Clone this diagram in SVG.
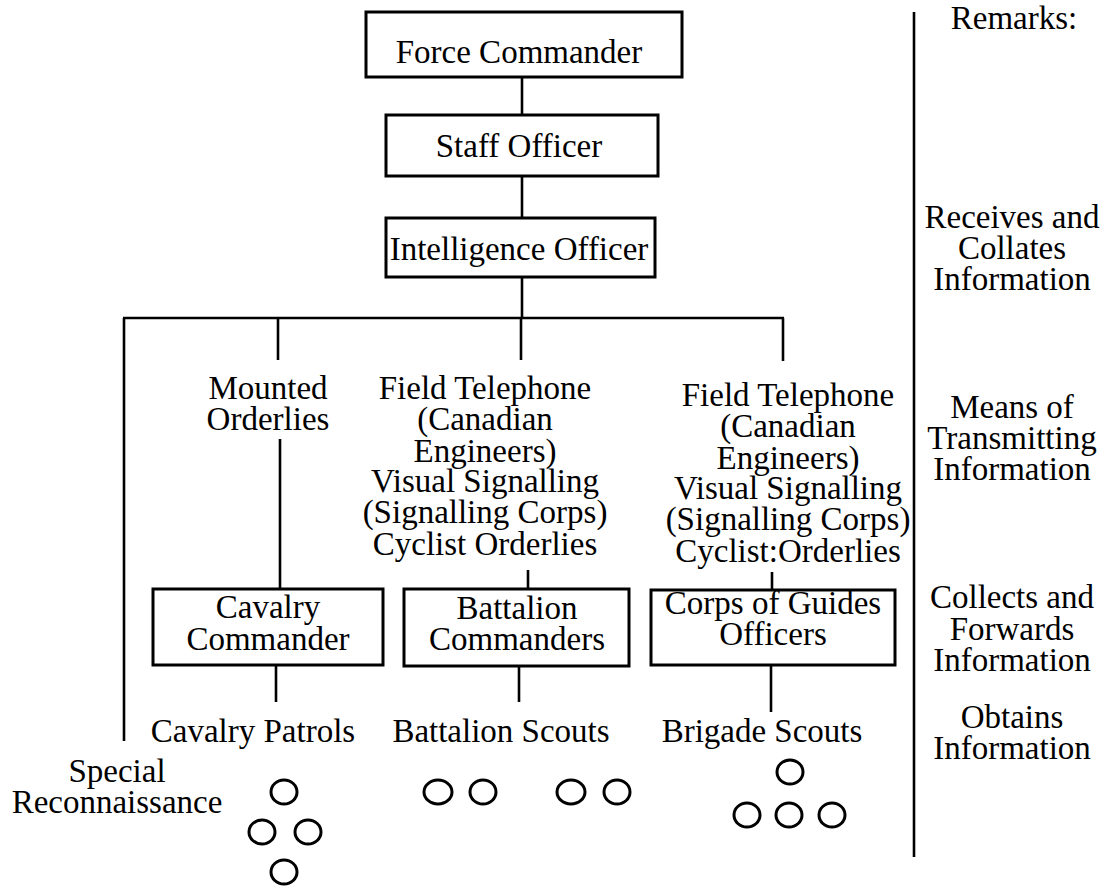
<svg xmlns="http://www.w3.org/2000/svg" width="1108" height="887" viewBox="0 0 1108 887">
<style>
text { font-family: "Liberation Serif", "Times New Roman", serif; font-size: 33px; fill: #000; text-anchor: middle; }
.box { fill: #fff; stroke: #000; stroke-width: 3; }
.ln { stroke: #000; stroke-width: 2.6; fill: none; }
.c { fill: none; stroke: #000; stroke-width: 3; }
</style>
<rect width="1108" height="887" fill="#fff"/>
<g id="connectors">
<line class="ln" x1="522" y1="77" x2="522" y2="115"/>
<line class="ln" x1="522" y1="176" x2="522" y2="218"/>
<line class="ln" x1="522" y1="277" x2="522" y2="318"/>
<line class="ln" x1="123" y1="318" x2="784" y2="318"/>
<line class="ln" x1="124" y1="318" x2="124" y2="741"/>
<line class="ln" x1="278" y1="318" x2="278" y2="360"/>
<line class="ln" x1="521" y1="318" x2="521" y2="360"/>
<line class="ln" x1="783" y1="318" x2="783" y2="361"/>
<line class="ln" x1="280" y1="439" x2="280" y2="589"/>
<line class="ln" x1="528" y1="570" x2="528" y2="589"/>
<line class="ln" x1="772" y1="572" x2="772" y2="590"/>
<line class="ln" x1="276" y1="665" x2="276" y2="702"/>
<line class="ln" x1="519" y1="666" x2="519" y2="702"/>
<line class="ln" x1="771" y1="665" x2="771" y2="712"/>
<line class="ln" x1="914" y1="12" x2="914" y2="857"/>
</g>
<g id="force-commander">
<rect class="box" x="366" y="12" width="316" height="65"/>
<text x="519" y="63">Force Commander</text>
</g>
<g id="staff-officer">
<rect class="box" x="386" y="115" width="272" height="61"/>
<text x="519" y="157">Staff Officer</text>
</g>
<g id="intelligence-officer">
<rect class="box" x="386" y="218" width="269" height="59"/>
<text x="519" y="260">Intelligence Officer</text>
</g>
<g id="mounted-orderlies">
<text x="268" y="399">Mounted</text>
<text x="268" y="430">Orderlies</text>
</g>
<g id="field-telephone-1">
<text x="485" y="399">Field Telephone</text>
<text x="485" y="430">(Canadian</text>
<text x="485" y="462">Engineers)</text>
<text x="485" y="492">Visual Signalling</text>
<text x="485" y="523">(Signalling Corps)</text>
<text x="485" y="555">Cyclist Orderlies</text>
</g>
<g id="field-telephone-2">
<text x="788" y="406">Field Telephone</text>
<text x="788" y="437">(Canadian</text>
<text x="788" y="469">Engineers)</text>
<text x="788" y="499">Visual Signalling</text>
<text x="788" y="530">(Signalling Corps)</text>
<text x="788" y="562">Cyclist:Orderlies</text>
</g>
<g id="cavalry-commander">
<rect class="box" x="153" y="589" width="230" height="76"/>
<text x="268" y="618">Cavalry</text>
<text x="268" y="650">Commander</text>
</g>
<g id="battalion-commanders">
<rect class="box" x="404" y="589" width="225" height="77"/>
<text x="517" y="619">Battalion</text>
<text x="517" y="650">Commanders</text>
</g>
<g id="corps-of-guides">
<rect class="box" x="651" y="590" width="244" height="75"/>
<text x="773" y="614">Corps of Guides</text>
<text x="773" y="645">Officers</text>
</g>
<g id="cavalry-patrols">
<text x="253" y="742">Cavalry Patrols</text>
</g>
<g id="battalion-scouts">
<text x="501" y="742">Battalion Scouts</text>
</g>
<g id="brigade-scouts">
<text x="762" y="742">Brigade Scouts</text>
</g>
<g id="special-reconnaissance">
<text x="117" y="782">Special</text>
<text x="117" y="813">Reconnaissance</text>
<ellipse class="c" cx="284" cy="792" rx="13" ry="12"/>
<ellipse class="c" cx="262" cy="832" rx="13" ry="12"/>
<ellipse class="c" cx="308" cy="832" rx="13" ry="12"/>
<ellipse class="c" cx="284" cy="872" rx="13" ry="12"/>
</g>
<g id="battalion-scout-circles">
<ellipse class="c" cx="438" cy="792" rx="14" ry="12"/>
<ellipse class="c" cx="483" cy="792" rx="13" ry="12"/>
<ellipse class="c" cx="571" cy="792" rx="14" ry="12"/>
<ellipse class="c" cx="617" cy="792" rx="13" ry="12"/>
</g>
<g id="brigade-scout-circles">
<ellipse class="c" cx="790" cy="772" rx="13" ry="12"/>
<ellipse class="c" cx="747" cy="815" rx="13" ry="12"/>
<ellipse class="c" cx="789" cy="815" rx="13" ry="12"/>
<ellipse class="c" cx="832" cy="815" rx="13" ry="12"/>
</g>
<g id="remarks">
<text x="1014" y="29">Remarks:</text>
<text x="1012" y="228">Receives and</text>
<text x="1012" y="259">Collates</text>
<text x="1012" y="290">Information</text>
<text x="1012" y="418">Means of</text>
<text x="1012" y="449">Transmitting</text>
<text x="1012" y="480">Information</text>
<text x="1012" y="608">Collects and</text>
<text x="1012" y="640">Forwards</text>
<text x="1012" y="671">Information</text>
<text x="1012" y="728">Obtains</text>
<text x="1012" y="759">Information</text>
</g>
</svg>
